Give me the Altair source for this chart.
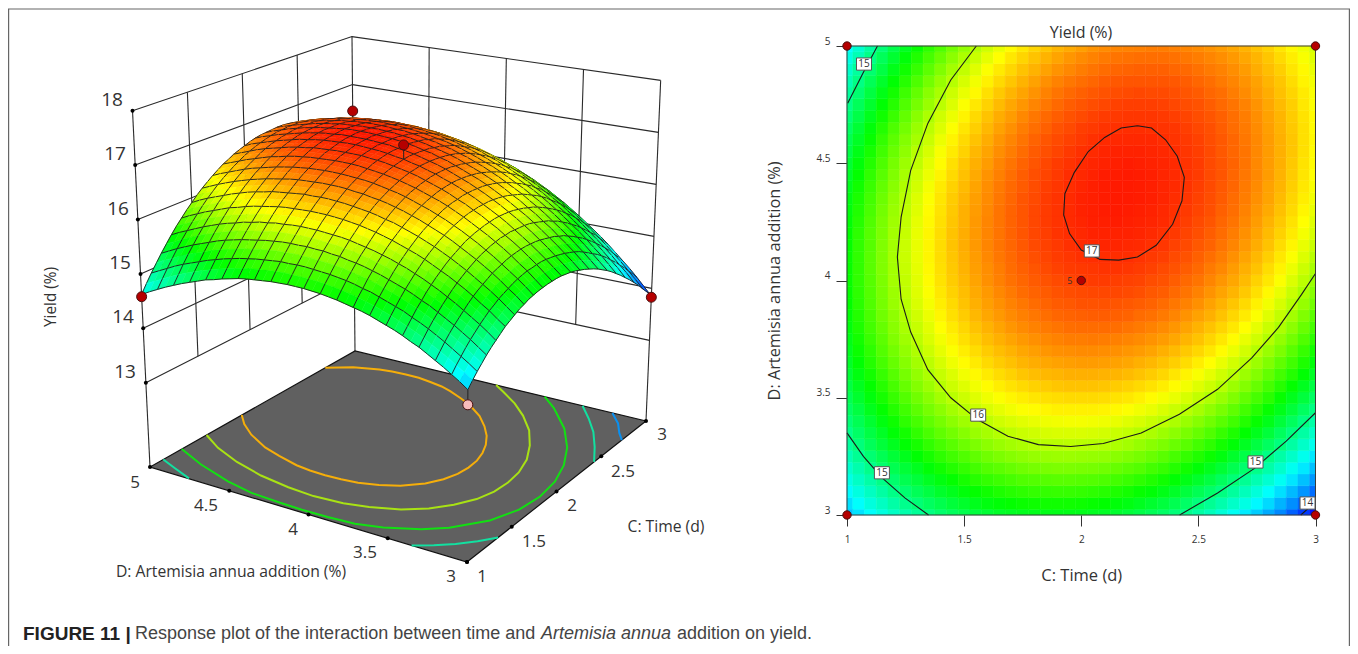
import altair as alt

W, H = 1342, 638
FONT = "Open Sans"
INK = "#333333"

# ---- response values
C_VALUES = [1.00, 1.05, 1.10, 1.15, 1.20, 1.25, 1.30, 1.35, 1.40, 1.45, 1.50, 1.55, 1.60, 1.65, 1.70, 1.75, 1.80, 1.85, 1.90, 1.95, 2.00,
            2.05, 2.10, 2.15, 2.20, 2.25, 2.30, 2.35, 2.40, 2.45, 2.50, 2.55, 2.60, 2.65, 2.70, 2.75, 2.80, 2.85, 2.90, 2.95, 3.00]
D_VALUES = [3.00, 3.05, 3.10, 3.15, 3.20, 3.25, 3.30, 3.35, 3.40, 3.45, 3.50, 3.55, 3.60, 3.65, 3.70, 3.75, 3.80, 3.85, 3.90, 3.95, 4.00,
            4.05, 4.10, 4.15, 4.20, 4.25, 4.30, 4.35, 4.40, 4.45, 4.50, 4.55, 4.60, 4.65, 4.70, 4.75, 4.80, 4.85, 4.90, 4.95, 5.00]
YIELD_ROWS = [
    [14.42,14.53,14.63,14.72,14.81,14.89,14.96,15.03,15.10,15.15,15.20,15.25,15.28,15.32,15.34,15.36,15.37,15.38,15.38,15.38,15.37,15.35,15.33,15.30,15.26,15.22,15.17,15.12,15.06,14.99,14.92,14.84,14.75,14.66,14.56,14.46,14.35,14.24,14.11,13.99,13.85],
    [14.52,14.63,14.73,14.82,14.91,14.99,15.07,15.14,15.20,15.26,15.31,15.36,15.40,15.43,15.46,15.48,15.49,15.50,15.50,15.50,15.49,15.47,15.45,15.42,15.39,15.35,15.30,15.25,15.19,15.12,15.05,14.97,14.89,14.80,14.71,14.60,14.50,14.38,14.26,14.14,14.00],
    [14.61,14.72,14.82,14.92,15.01,15.09,15.17,15.24,15.31,15.36,15.42,15.46,15.50,15.54,15.57,15.59,15.61,15.61,15.62,15.62,15.61,15.59,15.57,15.54,15.51,15.47,15.43,15.38,15.32,15.25,15.18,15.11,15.03,14.94,14.84,14.74,14.63,14.52,14.40,14.28,14.15],
    [14.70,14.81,14.91,15.01,15.10,15.19,15.26,15.34,15.40,15.46,15.52,15.57,15.61,15.64,15.67,15.70,15.71,15.72,15.73,15.73,15.72,15.71,15.69,15.66,15.63,15.59,15.55,15.50,15.44,15.38,15.31,15.24,15.15,15.07,14.97,14.87,14.77,14.66,14.54,14.42,14.29],
    [14.78,14.89,15.00,15.10,15.19,15.27,15.35,15.43,15.50,15.56,15.61,15.66,15.71,15.74,15.77,15.80,15.82,15.83,15.84,15.84,15.83,15.82,15.80,15.77,15.74,15.71,15.66,15.62,15.56,15.50,15.43,15.36,15.28,15.19,15.10,15.00,14.90,14.79,14.67,14.55,14.42],
    [14.86,14.97,15.08,15.18,15.27,15.36,15.44,15.52,15.59,15.65,15.70,15.75,15.80,15.84,15.87,15.90,15.92,15.93,15.94,15.94,15.93,15.92,15.91,15.88,15.85,15.82,15.78,15.73,15.67,15.61,15.55,15.48,15.40,15.31,15.22,15.13,15.02,14.91,14.80,14.68,14.55],
    [14.94,15.05,15.16,15.26,15.35,15.44,15.52,15.60,15.67,15.73,15.79,15.84,15.89,15.93,15.96,15.99,16.01,16.03,16.03,16.04,16.03,16.02,16.01,15.99,15.96,15.92,15.88,15.84,15.78,15.73,15.66,15.59,15.51,15.43,15.34,15.24,15.14,15.04,14.92,14.80,14.68],
    [15.00,15.12,15.23,15.33,15.43,15.51,15.60,15.68,15.75,15.81,15.87,15.93,15.97,16.01,16.05,16.08,16.10,16.12,16.13,16.13,16.13,16.12,16.11,16.08,16.06,16.02,15.99,15.94,15.89,15.83,15.77,15.70,15.62,15.54,15.45,15.36,15.26,15.15,15.04,14.92,14.80],
    [15.07,15.18,15.29,15.40,15.49,15.59,15.67,15.75,15.82,15.89,15.95,16.00,16.05,16.10,16.13,16.16,16.18,16.20,16.21,16.22,16.22,16.21,16.20,16.18,16.15,16.12,16.08,16.04,15.99,15.93,15.87,15.80,15.73,15.65,15.56,15.47,15.37,15.26,15.15,15.03,14.91],
    [15.13,15.24,15.36,15.46,15.56,15.65,15.74,15.82,15.89,15.96,16.02,16.08,16.13,16.17,16.21,16.24,16.26,16.28,16.30,16.30,16.30,16.30,16.29,16.27,16.24,16.21,16.18,16.13,16.08,16.03,15.97,15.90,15.83,15.75,15.66,15.57,15.47,15.37,15.26,15.14,15.02],
    [15.18,15.30,15.41,15.52,15.62,15.71,15.80,15.88,15.96,16.03,16.09,16.15,16.20,16.24,16.28,16.31,16.34,16.36,16.37,16.38,16.38,16.38,16.37,16.35,16.33,16.30,16.26,16.22,16.18,16.12,16.06,16.00,15.93,15.85,15.76,15.67,15.58,15.47,15.36,15.25,15.13],
    [15.23,15.35,15.46,15.57,15.67,15.77,15.86,15.94,16.02,16.09,16.15,16.21,16.26,16.31,16.35,16.38,16.41,16.43,16.45,16.46,16.46,16.46,16.45,16.43,16.41,16.38,16.35,16.31,16.26,16.21,16.15,16.09,16.02,15.94,15.86,15.77,15.67,15.57,15.46,15.35,15.23],
    [15.28,15.40,15.51,15.62,15.72,15.82,15.91,15.99,16.07,16.14,16.21,16.27,16.32,16.37,16.41,16.45,16.48,16.50,16.51,16.53,16.53,16.53,16.52,16.51,16.49,16.46,16.43,16.39,16.34,16.29,16.23,16.17,16.10,16.03,15.94,15.86,15.76,15.66,15.56,15.44,15.33],
    [15.32,15.44,15.56,15.67,15.77,15.87,15.96,16.04,16.12,16.20,16.26,16.32,16.38,16.43,16.47,16.51,16.54,16.56,16.58,16.59,16.60,16.60,16.59,16.58,16.56,16.53,16.50,16.46,16.42,16.37,16.31,16.25,16.18,16.11,16.03,15.94,15.85,15.75,15.65,15.54,15.42],
    [15.35,15.48,15.59,15.71,15.81,15.91,16.00,16.09,16.17,16.24,16.31,16.37,16.43,16.48,16.52,16.56,16.59,16.62,16.64,16.65,16.66,16.66,16.65,16.64,16.62,16.60,16.57,16.53,16.49,16.44,16.39,16.33,16.26,16.19,16.11,16.02,15.93,15.84,15.73,15.62,15.51],
    [15.38,15.51,15.63,15.74,15.85,15.95,16.04,16.13,16.21,16.29,16.36,16.42,16.48,16.53,16.57,16.61,16.64,16.67,16.69,16.71,16.71,16.72,16.71,16.70,16.68,16.66,16.63,16.60,16.56,16.51,16.46,16.40,16.33,16.26,16.18,16.10,16.01,15.91,15.81,15.70,15.59],
    [15.41,15.54,15.66,15.77,15.88,15.98,16.07,16.16,16.25,16.32,16.39,16.46,16.52,16.57,16.62,16.66,16.69,16.72,16.74,16.76,16.77,16.77,16.77,16.76,16.74,16.72,16.69,16.66,16.62,16.57,16.52,16.46,16.40,16.33,16.25,16.17,16.08,15.99,15.89,15.78,15.67],
    [15.43,15.56,15.68,15.80,15.90,16.01,16.10,16.19,16.28,16.36,16.43,16.50,16.56,16.61,16.66,16.70,16.73,16.76,16.79,16.80,16.81,16.82,16.82,16.81,16.80,16.77,16.75,16.72,16.68,16.63,16.58,16.53,16.46,16.39,16.32,16.24,16.15,16.06,15.96,15.85,15.74],
    [15.45,15.58,15.70,15.82,15.93,16.03,16.13,16.22,16.31,16.38,16.46,16.53,16.59,16.64,16.69,16.73,16.77,16.80,16.83,16.84,16.86,16.86,16.86,16.85,16.84,16.82,16.80,16.77,16.73,16.69,16.64,16.58,16.52,16.45,16.38,16.30,16.21,16.12,16.02,15.92,15.81],
    [15.46,15.59,15.71,15.83,15.94,16.05,16.15,16.24,16.33,16.41,16.48,16.55,16.61,16.67,16.72,16.77,16.80,16.83,16.86,16.88,16.89,16.90,16.90,16.90,16.89,16.87,16.84,16.82,16.78,16.74,16.69,16.63,16.57,16.51,16.44,16.36,16.27,16.18,16.08,15.98,15.87],
    [15.47,15.60,15.72,15.84,15.96,16.06,16.16,16.26,16.35,16.43,16.50,16.57,16.64,16.70,16.75,16.79,16.83,16.86,16.89,16.91,16.93,16.94,16.94,16.93,16.92,16.91,16.88,16.86,16.82,16.78,16.74,16.68,16.62,16.56,16.49,16.41,16.33,16.24,16.14,16.04,15.93],
    [15.47,15.60,15.73,15.85,15.96,16.07,16.17,16.27,16.36,16.44,16.52,16.59,16.65,16.71,16.77,16.81,16.85,16.89,16.92,16.94,16.95,16.96,16.97,16.97,16.96,16.94,16.92,16.89,16.86,16.82,16.78,16.72,16.67,16.60,16.53,16.46,16.37,16.29,16.19,16.09,15.98],
    [15.47,15.60,15.73,15.85,15.97,16.08,16.18,16.28,16.37,16.45,16.53,16.60,16.67,16.73,16.78,16.83,16.87,16.91,16.94,16.96,16.98,16.99,16.99,16.99,16.99,16.97,16.95,16.93,16.89,16.86,16.81,16.76,16.71,16.64,16.57,16.50,16.42,16.33,16.24,16.14,16.03],
    [15.46,15.60,15.72,15.85,15.96,16.08,16.18,16.28,16.37,16.46,16.54,16.61,16.68,16.74,16.79,16.84,16.89,16.92,16.95,16.98,17.00,17.01,17.02,17.02,17.01,17.00,16.98,16.96,16.92,16.89,16.84,16.80,16.74,16.68,16.61,16.54,16.46,16.37,16.28,16.18,16.08],
    [15.45,15.59,15.72,15.84,15.96,16.07,16.18,16.28,16.37,16.46,16.54,16.61,16.68,16.74,16.80,16.85,16.90,16.93,16.97,16.99,17.01,17.03,17.03,17.03,17.03,17.02,17.00,16.98,16.95,16.91,16.87,16.82,16.77,16.71,16.64,16.57,16.49,16.41,16.32,16.22,16.12],
    [15.43,15.57,15.70,15.83,15.95,16.06,16.17,16.27,16.36,16.45,16.53,16.61,16.68,16.74,16.80,16.85,16.90,16.94,16.97,17.00,17.02,17.04,17.04,17.05,17.04,17.03,17.02,17.00,16.97,16.93,16.89,16.85,16.79,16.74,16.67,16.60,16.52,16.44,16.35,16.25,16.15],
    [15.41,15.55,15.68,15.81,15.93,16.05,16.15,16.26,16.35,16.44,16.53,16.60,16.67,16.74,16.80,16.85,16.90,16.94,16.97,17.00,17.03,17.04,17.05,17.06,17.05,17.04,17.03,17.01,16.98,16.95,16.91,16.87,16.81,16.76,16.69,16.62,16.55,16.47,16.38,16.28,16.18],
    [15.39,15.53,15.66,15.79,15.91,16.03,16.14,16.24,16.34,16.43,16.51,16.59,16.66,16.73,16.79,16.85,16.89,16.94,16.97,17.00,17.03,17.04,17.05,17.06,17.06,17.05,17.04,17.02,16.99,16.96,16.92,16.88,16.83,16.77,16.71,16.64,16.57,16.49,16.40,16.31,16.21],
    [15.36,15.50,15.63,15.76,15.88,16.00,16.11,16.22,16.32,16.41,16.49,16.57,16.65,16.72,16.78,16.83,16.88,16.93,16.96,16.99,17.02,17.04,17.05,17.06,17.06,17.05,17.04,17.02,17.00,16.97,16.93,16.89,16.84,16.79,16.72,16.66,16.58,16.51,16.42,16.33,16.23],
    [15.32,15.46,15.60,15.73,15.85,15.97,16.09,16.19,16.29,16.38,16.47,16.55,16.63,16.70,16.76,16.82,16.87,16.91,16.95,16.99,17.01,17.03,17.05,17.05,17.06,17.05,17.04,17.02,17.00,16.97,16.94,16.89,16.85,16.79,16.73,16.67,16.60,16.52,16.43,16.34,16.25],
    [15.28,15.42,15.56,15.69,15.82,15.94,16.05,16.16,16.26,16.36,16.45,16.53,16.60,16.68,16.74,16.80,16.85,16.90,16.94,16.97,17.00,17.02,17.03,17.04,17.05,17.04,17.03,17.02,17.00,16.97,16.94,16.89,16.85,16.80,16.74,16.67,16.60,16.53,16.44,16.35,16.26],
    [15.23,15.38,15.52,15.65,15.78,15.90,16.02,16.12,16.23,16.32,16.41,16.50,16.57,16.65,16.71,16.77,16.83,16.87,16.91,16.95,16.98,17.00,17.02,17.03,17.03,17.03,17.02,17.01,16.99,16.96,16.93,16.89,16.84,16.79,16.74,16.67,16.60,16.53,16.45,16.36,16.26],
    [15.19,15.33,15.47,15.61,15.74,15.86,15.97,16.08,16.19,16.29,16.38,16.46,16.54,16.62,16.68,16.74,16.80,16.85,16.89,16.92,16.95,16.98,17.00,17.01,17.01,17.01,17.01,16.99,16.97,16.95,16.92,16.88,16.84,16.79,16.73,16.67,16.60,16.53,16.45,16.36,16.27],
    [15.13,15.28,15.42,15.56,15.69,15.81,15.93,16.04,16.14,16.24,16.34,16.42,16.50,16.58,16.64,16.71,16.76,16.81,16.86,16.89,16.93,16.95,16.97,16.98,16.99,16.99,16.98,16.97,16.96,16.93,16.90,16.87,16.82,16.77,16.72,16.66,16.59,16.52,16.44,16.36,16.26],
    [15.07,15.22,15.36,15.50,15.63,15.76,15.88,15.99,16.10,16.19,16.29,16.38,16.46,16.54,16.60,16.67,16.73,16.78,16.82,16.86,16.89,16.92,16.94,16.95,16.96,16.96,16.96,16.95,16.93,16.91,16.88,16.85,16.81,16.76,16.71,16.65,16.58,16.51,16.43,16.35,16.26],
    [15.01,15.16,15.30,15.44,15.57,15.70,15.82,15.93,16.04,16.14,16.24,16.33,16.41,16.49,16.56,16.62,16.68,16.73,16.78,16.82,16.85,16.88,16.90,16.92,16.93,16.93,16.93,16.92,16.90,16.88,16.86,16.82,16.78,16.74,16.69,16.63,16.56,16.49,16.42,16.33,16.24],
    [14.94,15.09,15.24,15.38,15.51,15.64,15.76,15.88,15.98,16.09,16.18,16.27,16.36,16.44,16.51,16.57,16.63,16.69,16.74,16.78,16.81,16.84,16.86,16.88,16.89,16.90,16.89,16.89,16.87,16.85,16.83,16.79,16.76,16.71,16.66,16.60,16.54,16.47,16.40,16.32,16.23],
    [14.87,15.02,15.17,15.31,15.44,15.57,15.69,15.81,15.92,16.02,16.12,16.21,16.30,16.38,16.45,16.52,16.58,16.64,16.69,16.73,16.76,16.79,16.82,16.84,16.85,16.85,16.85,16.85,16.84,16.82,16.79,16.76,16.72,16.68,16.63,16.58,16.51,16.45,16.37,16.29,16.21],
    [14.79,14.94,15.09,15.23,15.37,15.50,15.62,15.74,15.85,15.96,16.06,16.15,16.24,16.32,16.39,16.46,16.52,16.58,16.63,16.67,16.71,16.74,16.77,16.79,16.80,16.81,16.81,16.81,16.79,16.78,16.75,16.72,16.69,16.65,16.60,16.54,16.48,16.42,16.34,16.27,16.18],
    [14.71,14.86,15.01,15.16,15.29,15.42,15.55,15.67,15.78,15.89,15.99,16.08,16.17,16.25,16.33,16.40,16.46,16.52,16.57,16.62,16.66,16.69,16.72,16.74,16.75,16.76,16.76,16.76,16.75,16.73,16.71,16.68,16.65,16.61,16.56,16.51,16.45,16.38,16.31,16.23,16.15],
    [14.62,14.78,14.93,15.07,15.21,15.34,15.47,15.59,15.70,15.81,15.91,16.01,16.10,16.18,16.26,16.33,16.40,16.45,16.51,16.55,16.59,16.63,16.66,16.68,16.69,16.70,16.71,16.71,16.70,16.68,16.66,16.63,16.60,16.56,16.52,16.46,16.41,16.34,16.27,16.20,16.11],
]
GRID_EVERY = 2

COLOR_LEVELS = [13.8, 14.62, 15.45, 16.25, 17.15]
COLOR_STOPS = ["#0000ff", "#00ffff", "#00ff00", "#ffff00", "#ff0000"]

# contour lines, (C, D)
C17 = [(2.24,4.66),(2.30,4.65),(2.36,4.60),(2.41,4.53),(2.44,4.44),(2.43,4.34),(2.39,4.24),(2.32,4.15),(2.24,4.10),(2.16,4.087),(2.08,4.09),(2.00,4.13),(1.95,4.20),(1.925,4.28),(1.93,4.37),(1.97,4.46),(2.03,4.55),(2.10,4.61),(2.17,4.65),(2.24,4.66)]
C165 = [(1.895,5.0),(1.8,4.92),(1.7,4.808),(1.6,4.653),(1.55,4.53),(1.5,4.386),(1.485,4.29),(1.48,4.19),(1.485,4.09),(1.5,3.99),(1.54,3.88),(1.6,3.778),(1.7,3.678),(1.8,3.62),(1.9,3.589),(2.0,3.579),(2.1,3.585),(2.2,3.61),(2.3,3.65),(2.4,3.707),(2.5,3.785),(2.6,3.882),(2.7,4.015),(2.75,4.11),(2.8,4.212),(2.83,4.29),(2.85,4.385),(2.865,4.47),(2.868,4.56),(2.862,4.65),(2.85,4.728),(2.8,4.873),(2.71,5.0)]
C16 = [(1.552,5.0),(1.443,4.855),(1.345,4.67),(1.272,4.47),(1.231,4.27),(1.215,4.10),(1.231,3.92),(1.272,3.78),(1.345,3.62),(1.443,3.5),(1.557,3.407),(1.687,3.336),(1.817,3.30),(1.955,3.292),(2.094,3.305),(2.256,3.35),(2.419,3.43),(2.582,3.536),(2.728,3.67),(2.842,3.80),(2.94,3.94),(3.0,4.03)]
C155 = [(1.31,5.0),(1.2,4.808),(1.1,4.571),(1.05,4.394),(1.035,4.2),(1.03,4.06),(1.035,3.9),(1.05,3.737),(1.1,3.587),(1.2,3.404),(1.3,3.286),(1.5,3.141),(1.7,3.069),(1.9,3.049),(2.1,3.07),(2.3,3.13),(2.5,3.229),(2.7,3.372),(2.9,3.57),(3.0,3.697)]
C15_A = [(1.13,5.0),(1.068,4.884),(1.003,4.756)]
C15_B = [(1.0,3.35),(1.07,3.25),(1.15,3.158),(1.247,3.073),(1.348,3.0)]
C15_C = [(2.42,3.0),(2.582,3.094),(2.741,3.20),(2.875,3.315),(3.0,3.436)]
C145 = [(3.0,3.231),(2.9,3.13),(2.8,3.06),(2.73,3.0)]
C14 = [(2.937,3.0),(3.0,3.055)]

DESIGN_C = [1, 3, 1, 3, 2]
DESIGN_D = [5, 3, 3, 5, 4]
DESIGN_Y = [14.58, 13.83, 14.16, 16.45, 17.2]

Z_TICKS = [13, 14, 15, 16, 17, 18]
C_TICKS = [1, 1.5, 2, 2.5, 3]
D_TICKS = [3, 3.5, 4, 4.5, 5]

LABEL_C = [1.0725, 2.045, 1.56, 1.149, 2.744, 2.966]
LABEL_D = [4.923, 4.126, 3.426, 3.18, 3.226, 3.051]
LABEL_T = ["15", "17", "16", "15", "15", "14"]

# ---- oblique view of the response box (page pixels of its corners)
FLOOR_Z = 11.45
P_A, P_B, P_E, P_F = (467, 562), (646, 421), (150, 467), (355, 351)
U_A, U_B, U_E, U_F = (0.3, -58.0), (2.24, -52.0), (-2.67, -54.4), (-0.46, -48.0)


def mix(a, b, e, f, c, d, k):
    return a[k]*(1-c)*(1-d) + b[k]*c*(1-d) + e[k]*(1-c)*d + f[k]*c*d


def proj(C, D, z):
    c, d = (C-1)/2, (D-3)/2
    h = z - FLOOR_Z
    x = mix(P_A, P_B, P_E, P_F, c, d, 0) + h*mix(U_A, U_B, U_E, U_F, c, d, 0)
    y = mix(P_A, P_B, P_E, P_F, c, d, 1) + h*mix(U_A, U_B, U_E, U_F, c, d, 1)
    return [round(x, 2), round(y, 2)]


def geo(p):
    return [round(p[0]-8, 2), round(p[1]-8, 2)]


def hexmix(v):
    v = max(COLOR_LEVELS[0], min(COLOR_LEVELS[-1], v))
    for i in range(len(COLOR_LEVELS)-1):
        if v <= COLOR_LEVELS[i+1]:
            t = (v-COLOR_LEVELS[i])/(COLOR_LEVELS[i+1]-COLOR_LEVELS[i])
            a, b = COLOR_STOPS[i], COLOR_STOPS[i+1]
            rgb = [round(int(a[k:k+2], 16)*(1-t)+int(b[k:k+2], 16)*t) for k in (1, 3, 5)]
            return "#%02x%02x%02x" % tuple(rgb)
    return COLOR_STOPS[-1]


def poly(pts, fill, stroke="transparent", sw=0):
    ring = [geo(p) for p in pts]
    ring.append(ring[0])
    return {"type": "Feature", "geometry": {"type": "Polygon", "coordinates": [ring]},
            "properties": {"fill": fill, "stroke": stroke, "sw": sw}}


def line(pts, stroke, sw):
    return {"type": "Feature", "geometry": {"type": "LineString", "coordinates": [geo(p) for p in pts]},
            "properties": {"fill": "transparent", "stroke": stroke, "sw": sw}}


scene_f = [poly([(8, 8), (8+W, 8), (8+W, 8+H), (8, 8+H)], "transparent")]
# figure border
scene_f.append(line([(8.6, 646), (8.6, 9), (1349.4, 9), (1349.4, 646)], "#666666", 1.2))

WALL = "#2a2a2a"
for z in Z_TICKS:
    scene_f.append(line([proj(1, 5, z), proj(3, 5, z), proj(3, 3, z)], WALL, 1.1))
for C in [1.5, 2, 2.5]:
    scene_f.append(line([proj(C, 5, 13), proj(C, 5, 18)], WALL, 1.1))
for D in [4.5, 4, 3.5]:
    scene_f.append(line([proj(3, D, 13), proj(3, D, 18)], WALL, 1.1))
for C, D in [(1, 5), (3, 5), (3, 3)]:
    scene_f.append(line([proj(C, D, FLOOR_Z), proj(C, D, 18)], WALL, 1.1))

scene_f.append(poly([proj(1, 3, FLOOR_Z), proj(3, 3, FLOOR_Z), proj(3, 5, FLOOR_Z), proj(1, 5, FLOOR_Z)],
                    "#606060", "#111111", 1.2))
for pts, col in [(C165, "#f5ae0a"), (C16, "#a8e214"), (C155, "#12e012"), (C15_A, "#12e0a0"),
                 (C15_B, "#12e0a0"), (C15_C, "#12e0a0"), (C145, "#0a90f0")]:
    scene_f.append(line([proj(C, D, FLOOR_Z) for C, D in pts], col, 2))

# back design point stem
scene_f.append(line([proj(3, 5, 16.45), proj(3, 5, 16.11)], "#222222", 1))

n_c, n_d = len(C_VALUES), len(D_VALUES)
cells = sorted(((i, j) for i in range(n_c-1) for j in range(n_d-1)), key=lambda t: -(t[0]+t[1]))
GRIDC = "#1c1c1c"
for i, j in cells:
    c0, c1 = C_VALUES[i], C_VALUES[i+1]
    d0, d1 = D_VALUES[j], D_VALUES[j+1]
    z00, z10 = YIELD_ROWS[j][i], YIELD_ROWS[j][i+1]
    z01, z11 = YIELD_ROWS[j+1][i], YIELD_ROWS[j+1][i+1]
    pa, pb, pc, pd = proj(c0, d0, z00), proj(c1, d0, z10), proj(c1, d1, z11), proj(c0, d1, z01)
    col = hexmix((z00+z10+z01+z11)/4)
    scene_f.append(poly([pa, pb, pc, pd], col, col, 0.5))
    if (j+1) % GRID_EVERY == 0:
        scene_f.append(line([pd, pc], GRIDC, 0.9))
    if (i+1) % GRID_EVERY == 0:
        scene_f.append(line([pb, pc], GRIDC, 0.9))
    if j == 0:
        scene_f.append(line([pa, pb], GRIDC, 0.9))
    if i == 0:
        scene_f.append(line([pa, pd], GRIDC, 0.9))

scene_f.append(line([proj(2, 4, 17.2), proj(2, 4, 16.93)], "#222222", 1))
scene_f.append(line([proj(1, 3, 14.16), proj(1, 3, 14.42)], "#222222", 1))

scene = alt.Chart(alt.Data(values=scene_f)).mark_geoshape().encode(
    fill=alt.Fill("properties.fill:N", scale=None),
    stroke=alt.Stroke("properties.stroke:N", scale=None),
    strokeWidth=alt.StrokeWidth("properties.sw:Q", scale=None),
).project(type="identity")

PXX = alt.Scale(domain=[8, 8+W], range=[0, W], nice=False, zero=False)
PXY = alt.Scale(domain=[8, 8+H], range=[0, H], nice=False, zero=False)
XP = alt.X("x:Q", scale=PXX, axis=None)
YP = alt.Y("y:Q", scale=PXY, axis=None)

tick_rows = []
for z in Z_TICKS:
    x, y = proj(1, 5, z)
    tick_rows.append({"x": x, "y": y})
for C in C_TICKS:
    x, y = proj(C, 3, FLOOR_Z)
    tick_rows.append({"x": x, "y": y})
for D in D_TICKS:
    x, y = proj(1, D, FLOOR_Z)
    tick_rows.append({"x": x, "y": y})
tick_dots = alt.Chart(alt.Data(values=tick_rows)).mark_circle(color="#000000", size=16, opacity=1).encode(x=XP, y=YP)

d3_rows = []
for C, D, Yv in zip(DESIGN_C, DESIGN_D, DESIGN_Y):
    x, y = proj(C, D, Yv)
    d3_rows.append({"x": x, "y": y, "f": "#f8bcbc" if (C, D) == (1, 3) else "#b50000"})
design3d = alt.Chart(alt.Data(values=d3_rows)).mark_circle(size=100, opacity=1, stroke="#4a1010", strokeWidth=1).encode(
    x=XP, y=YP, fill=alt.Fill("f:N", scale=None))


def text_layer(xs, ys, labels, size, angle=0, align="center", weight="normal", style="normal", font=FONT, color=INK):
    rows = [{"x": a, "y": b, "t": t} for a, b, t in zip(xs, ys, labels)]
    return alt.Chart(alt.Data(values=rows)).mark_text(
        font=font, fontSize=size, angle=angle, align=align, baseline="middle",
        fontWeight=weight, fontStyle=style, color=color).encode(x=XP, y=YP, text="t:N")


z_labels = text_layer([125, 123, 120, 118, 115, 112], [372, 317, 263, 209, 154, 100], Z_TICKS, 19)
c_labels = text_layer([482, 534, 572, 623, 662], [577, 542, 506, 472, 435], C_TICKS, 17)
d_labels = text_layer([451, 365, 293, 206, 135], [577, 553, 530, 506, 483], D_TICKS, 17)
left_titles = text_layer([666, 231], [527, 572], ["C: Time (d)", "D: Artemisia annua addition (%)"], 15.7)
left_ytitle = text_layer([51], [297], ["Yield (%)"], 15.4, angle=270)
top_title = text_layer([1081], [33], ["Yield (%)"], 16)
cap1 = text_layer([23], [634], ["FIGURE 11 |"], 19, align="left", weight="bold", font="Liberation Sans", color="#222222")
cap2 = text_layer([135], [634], ["Response plot of the interaction between time and"], 18, align="left", font="Liberation Sans", color="#444444")
cap3 = text_layer([541], [634], ["Artemisia annua"], 18, align="left", style="italic", font="Liberation Sans", color="#444444")
cap4 = text_layer([677], [634], ["addition on yield."], 18, align="left", font="Liberation Sans", color="#444444")

# ---- right panel, on its own C and D scales
SX = alt.Scale(domain=[1, 3], range=[839, 1307.5], nice=False, zero=False)
SY = alt.Scale(domain=[3, 5], range=[507, 38], nice=False, zero=False)
HS = alt.Scale(domain=COLOR_LEVELS, range=COLOR_STOPS, interpolate="rgb")

heat_rows = []
for j, D in enumerate(D_VALUES):
    for i, C in enumerate(C_VALUES):
        heat_rows.append({
            "C0": (C_VALUES[i-1]+C)/2 if i else C,
            "C1": (C_VALUES[i+1]+C)/2 if i < n_c-1 else C,
            "D0": (D_VALUES[j-1]+D)/2 if j else D,
            "D1": (D_VALUES[j+1]+D)/2 if j < n_d-1 else D,
            "Yield": YIELD_ROWS[j][i],
        })

AXX = alt.Axis(values=C_TICKS, offset=-131, tickSize=11, tickColor=INK, labelColor=INK, labelFont=FONT,
               labelFontSize=10, labelPadding=8, labelFlush=False, domain=False, grid=False, format="~g", labelOverlap=False,
               title="C: Time (d)", titleFont=FONT, titleFontSize=16.5, titleFontWeight="normal",
               titleColor=INK, titlePadding=23)
AXY = alt.Axis(values=D_TICKS, offset=-839, tickSize=11, tickColor=INK, labelColor=INK, labelFont=FONT,
               labelFontSize=10, labelPadding=6, labelFlush=False, labelBaseline="bottom", domain=False, grid=False, format="~g",
               labelOverlap=False, title="D: Artemisia annua addition (%)", titleFont=FONT, titleFontSize=16.3,
               titleFontWeight="normal", titleColor=INK, titlePadding=33)

heat = alt.Chart(alt.Data(values=heat_rows)).mark_rect(strokeWidth=0.5).encode(
    x=alt.X("C0:Q", scale=SX, axis=AXX),
    x2="C1:Q",
    y=alt.Y("D0:Q", scale=SY, axis=AXY),
    y2="D1:Q",
    fill=alt.Fill("Yield:Q", scale=HS, legend=None),
    stroke=alt.Stroke("Yield:Q", scale=HS, legend=None),
)

XR = alt.X("C:Q", scale=SX, axis=None)
YR = alt.Y("D:Q", scale=SY, axis=None)

c_rows = []
for k, pts in enumerate([C17, C16, C15_A, C15_B, C15_C, C14]):
    for s, (C, D) in enumerate(pts):
        c_rows.append({"id": k, "seq": s, "C": C, "D": D})
contours = alt.Chart(alt.Data(values=c_rows)).mark_line(color="#1a1a1a", strokeWidth=1.1).encode(
    x=XR, y=YR, detail="id:N", order="seq:Q")

border_rows = [{"C": 1, "D": 3, "C1": 3, "D1": 5}]
border = alt.Chart(alt.Data(values=border_rows)).mark_rect(fill="transparent", stroke="#3a3a3a", strokeWidth=1).encode(
    x=XR, y=YR, x2="C1:Q", y2="D1:Q")

d2_rows = [{"C": 1, "D": 5}, {"C": 3, "D": 5}, {"C": 1, "D": 3}, {"C": 3, "D": 3}, {"C": 2, "D": 4}]
design2d = alt.Chart(alt.Data(values=d2_rows)).mark_circle(size=70, opacity=1, fill="#b50000", stroke="#4a1010", strokeWidth=1).encode(x=XR, y=YR)

box_rows = [{"C": a-0.032, "C1": a+0.032, "D": b-0.026, "D1": b+0.026} for a, b in zip(LABEL_C, LABEL_D)]
boxes = alt.Chart(alt.Data(values=box_rows)).mark_rect(fill="#ffffff", stroke="#555555", strokeWidth=1).encode(
    x=XR, y=YR, x2="C1:Q", y2="D1:Q")
box_text_rows = [{"C": a, "D": b, "t": t} for a, b, t in zip(LABEL_C, LABEL_D, LABEL_T)]
box_text = alt.Chart(alt.Data(values=box_text_rows)).mark_text(font=FONT, fontSize=10, color=INK, baseline="middle").encode(
    x=XR, y=YR, text="t:N")
five = alt.Chart(alt.Data(values=[{"C": 1.951, "D": 4.0, "t": "5"}])).mark_text(font=FONT, fontSize=9, color=INK, baseline="middle").encode(
    x=XR, y=YR, text="t:N")

chart = alt.layer(
    scene, tick_dots, design3d, z_labels, c_labels, d_labels, left_titles, left_ytitle,
    heat, contours, border, design2d, boxes, box_text, five,
    top_title, cap1, cap2, cap3, cap4,
).resolve_scale(x="independent", y="independent", fill="independent", stroke="independent").properties(
    width=W, height=H, padding=0, autosize=alt.AutoSizeParams(type="none"),
).configure_view(stroke=None)

chart.save("out.html", embed_options={"renderer": "svg", "actions": False})
